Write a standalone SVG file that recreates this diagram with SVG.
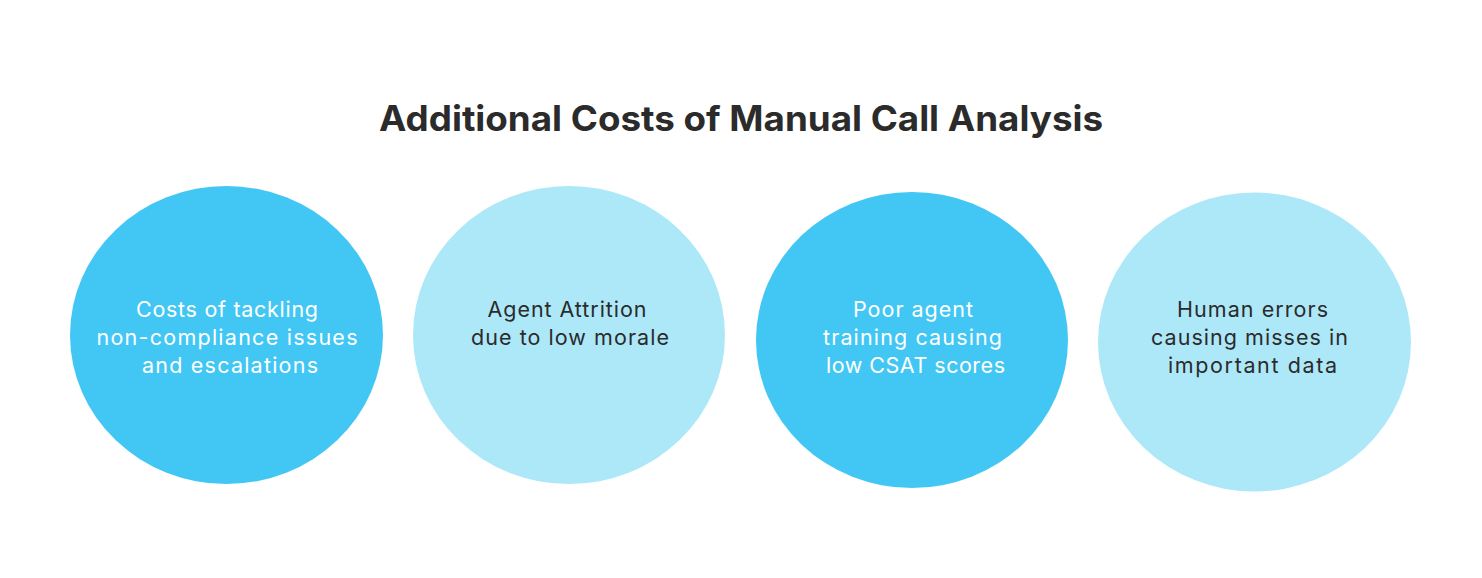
<svg xmlns="http://www.w3.org/2000/svg" width="1482" height="578" viewBox="0 0 1482 578">
<style>
.title{font-family:Inter,"Open Sans","Liberation Sans",sans-serif;font-weight:700;font-size:35px;fill:#2b2b2b;text-anchor:middle}
.lbl{font-family:Inter,"Open Sans","Liberation Sans",sans-serif;font-weight:400;font-size:21.5px;text-anchor:middle}
.dark{fill:#42c7f5}
.light{fill:#ade8f9}
.wt{fill:#ffffff}
.bt{fill:#2b2b2b}
</style>
<rect width="1482" height="578" fill="#ffffff"/>
<text class="title" x="741" y="131" textLength="724" lengthAdjust="spacingAndGlyphs">Additional Costs of Manual Call Analysis</text>
<g id="connectors"/>
<g id="node1">
<ellipse class="dark" cx="226.5" cy="335" rx="156.5" ry="149"/>
<text class="lbl wt" x="227" y="317" textLength="182">Costs of tackling</text>
<text class="lbl wt" x="227" y="345" textLength="261">non-compliance issues</text>
<text class="lbl wt" x="230" y="373" textLength="176">and escalations</text>
</g>
<g id="node2">
<ellipse class="light" cx="569" cy="335" rx="156" ry="149"/>
<text class="lbl bt" x="567" y="317" textLength="159">Agent Attrition</text>
<text class="lbl bt" x="570" y="345" textLength="198">due to low morale</text>
</g>
<g id="node3">
<ellipse class="dark" cx="912" cy="340" rx="156" ry="148"/>
<text class="lbl wt" x="913" y="317" textLength="120">Poor agent</text>
<text class="lbl wt" x="912.5" y="345" textLength="179">training causing</text>
<text class="lbl wt" x="915.5" y="373" textLength="179">low CSAT scores</text>
</g>
<g id="node4">
<ellipse class="light" cx="1254.5" cy="342" rx="156.5" ry="149.5"/>
<text class="lbl bt" x="1252.5" y="317" textLength="151">Human errors</text>
<text class="lbl bt" x="1249.5" y="345" textLength="197">causing misses in</text>
<text class="lbl bt" x="1252.5" y="373" textLength="169">important data</text>
</g>
</svg>
